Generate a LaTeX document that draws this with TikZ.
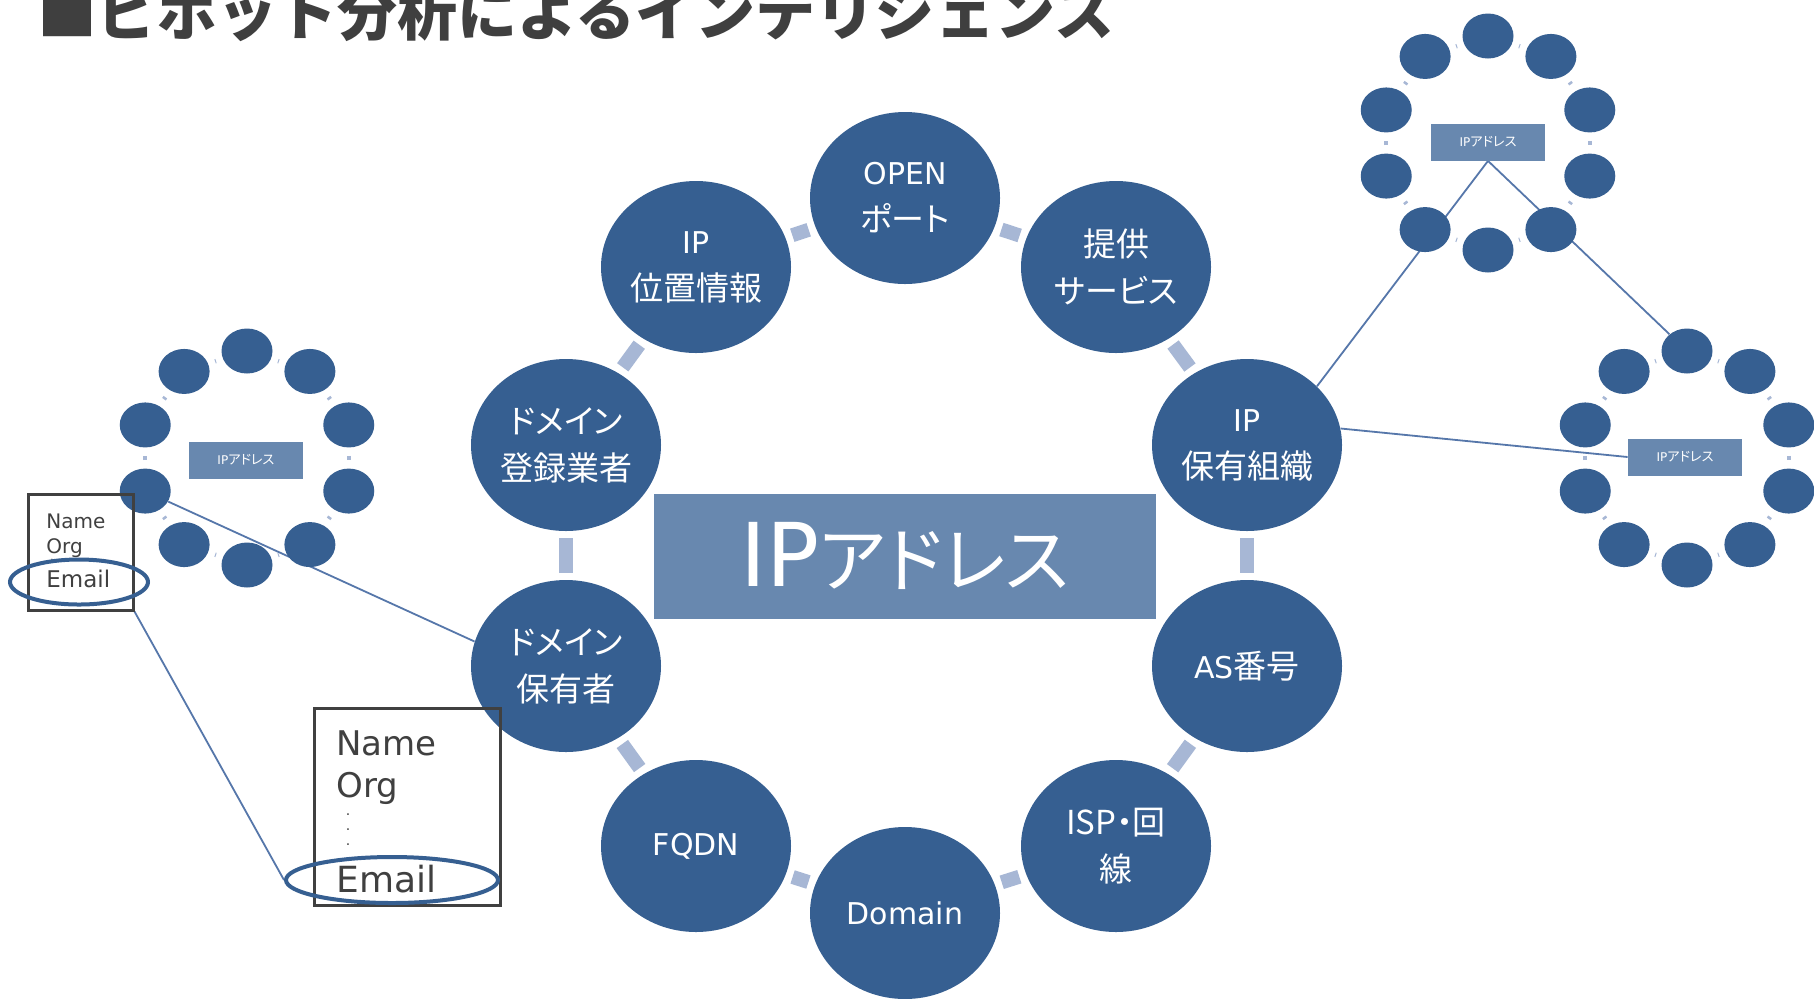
\documentclass[tikz,border=0pt]{standalone}
\usepackage{fontspec}
\setmainfont{DejaVu Sans}
\newfontfamily\jp[Scale=1.1,RawFeature=+palt]{Noto Sans CJK JP}
\newfontfamily\jpfull[Scale=1.1]{Noto Sans CJK JP}
\newfontfamily\jptitle{Noto Sans CJK JP}
\usetikzlibrary{shapes.geometric}
\definecolor{nodeblue}{HTML}{365F91}
\definecolor{rectblue}{HTML}{6888AF}
\definecolor{barblue}{HTML}{A7B7D5}
\definecolor{linkblue}{HTML}{5677AA}
\definecolor{boxgray}{HTML}{404040}
\definecolor{titlegray}{HTML}{3F3F3F}
\pgfdeclarelayer{paper}
\pgfdeclarelayer{bg}
\pgfsetlayers{paper,bg,main}
\tikzset{
  bignode/.style={ellipse, fill=nodeblue, minimum width=95pt, minimum height=86pt, inner sep=0pt, text=white, align=center, font=\fontsize{15}{23.5}\selectfont},
  smallnode/.style={ellipse, fill=nodeblue, minimum width=25.5pt, minimum height=22.5pt, inner sep=0pt},
  ringbar/.style={draw=barblue, line width=7pt, shorten <=3.5pt, shorten >=3.5pt},
  minibar/.style={draw=barblue, line width=2.2pt, shorten <=4pt, shorten >=4pt},
  link/.style={draw=linkblue, line width=0.9pt},
  centerrect/.style={rectangle, fill=rectblue, text=white, minimum width=251pt, minimum height=62.5pt, inner sep=0pt},
  minirect/.style={rectangle, fill=rectblue, text=white, minimum width=57pt, minimum height=18.5pt, inner sep=0pt, font=\fontsize{6}{7}\selectfont},
  databox/.style={rectangle, draw=boxgray, line width=1.5pt, inner sep=0pt},
  emailring/.style={ellipse, draw=nodeblue, line width=2pt, inner sep=0pt},
  boxtext/.style={anchor=base west, text=boxgray, inner sep=0pt}
}
\begin{document}
\begin{tikzpicture}[x=0.5pt, y=-0.5pt]
\useasboundingbox (0,0) rectangle (1814,998);
\begin{pgfonlayer}{paper}
\fill[white] (0,0) rectangle (1814,998);
\end{pgfonlayer}

% title
\node[anchor=base west, inner sep=0pt, text=titlegray, font={\fontsize{30}{36}\selectfont\jptitle\bfseries}] (title) at (37,35) {■ピボット分析によるインテリジェンス};

% main ring
\node[bignode] (open) at (905,198) {OPEN\\{\jp ポート}};
\node[bignode] (ipgeo) at (696,267) {IP\\{\jp 位置情報}};
\node[bignode] (svc) at (1116,267) {{\jp 提供}\\{\jp サービス}};
\node[bignode] (reg) at (566,445) {{\jp ドメイン}\\{\jp 登録業者}};
\node[bignode] (ipown) at (1247,445) {IP\\{\jp 保有組織}};
\node[bignode] (dom) at (566,666) {{\jp ドメイン}\\{\jp 保有者}};
\node[bignode] (asn) at (1247,666) {AS{\jp 番号}};
\node[bignode] (fqdn) at (696,846) {FQDN};
\node[bignode] (isp) at (1116,846) {{\jp ISP・回}\\{\jp 線}};
\node[bignode] (domain) at (905,913) {Domain};

\node[centerrect] (ip) at (905,556) {{\fontsize{44}{50}\selectfont IP}{\fontsize{32.5}{50}\selectfont\jp アドレス}};

% small clusters
\foreach \k in {0,...,9}{
  \node[smallnode] (L\k) at ({247+107*cos(90-36*\k)}, {458-107*sin(90-36*\k)}) {};
  \node[smallnode] (T\k) at ({1488+107*cos(90-36*\k)}, {143-107*sin(90-36*\k)}) {};
  \node[smallnode] (R\k) at ({1687+107*cos(90-36*\k)}, {458-107*sin(90-36*\k)}) {};
}
\node[minirect] (lip) at (246,460) {IP{\jp アドレス}};
\node[minirect] (tip) at (1488,142) {IP{\jp アドレス}};
\node[minirect] (rip) at (1685,457) {IP{\jp アドレス}};

% small data box
\node[databox, minimum width=52.5pt, minimum height=58pt] (sbox) at (80.5,552) {};
\node[boxtext, font=\fontsize{10}{12}\selectfont] (sname) at (46,528) {Name};
\node[boxtext, font=\fontsize{10}{12}\selectfont] (sorg) at (46,553) {Org};
\node[boxtext, font=\fontsize{5}{6}\selectfont] (sdot) at (50,560) {.};
\node[boxtext, font=\fontsize{11.5}{13}\selectfont] (smail) at (46,587) {Email};
\node[emailring, minimum width=69pt, minimum height=22.5pt] (sring) at (79,582) {};

% big data box
\node[databox, minimum width=93pt, minimum height=98.5pt] (bbox) at (407,806.5) {};
\node[boxtext, font=\fontsize{17}{20}\selectfont] (bname) at (336,755) {Name};
\node[boxtext, font=\fontsize{17}{20}\selectfont] (borg) at (336,797) {Org};
\node[anchor=center, inner sep=0pt, text=boxgray, align=center, font=\fontsize{7}{7.5}\selectfont] (bdots) at (348,830) {.\\.\\.};
\node[boxtext, font=\fontsize{18}{20}\selectfont] (bmail) at (336,892) {Email};
\node[emailring, minimum width=106pt, minimum height=23pt] (bring) at (392,880) {};

\begin{pgfonlayer}{bg}
  \foreach \a/\b in {open/svc, svc/ipown, ipown/asn, asn/isp, isp/domain, domain/fqdn, fqdn/dom, dom/reg, reg/ipgeo, ipgeo/open}
    \draw[ringbar] (\a) -- (\b);
  \foreach \k in {0,...,9}{
    \pgfmathtruncatemacro\nxt{mod(\k+1,10)}
    \draw[minibar] (L\k) -- (L\nxt);
    \draw[minibar] (T\k) -- (T\nxt);
    \draw[minibar] (R\k) -- (R\nxt);
  }
  \draw[link] (L7) -- (dom.165);
  \draw[link] (ipown.40) -- (tip.south);
  \draw[link] (tip.south) -- (R0);
  \draw[link] (ipown.10) -- (rip.west);
  \draw[link] (sbox.south east) -- (bring.west);
\end{pgfonlayer}
\end{tikzpicture}
\end{document}
